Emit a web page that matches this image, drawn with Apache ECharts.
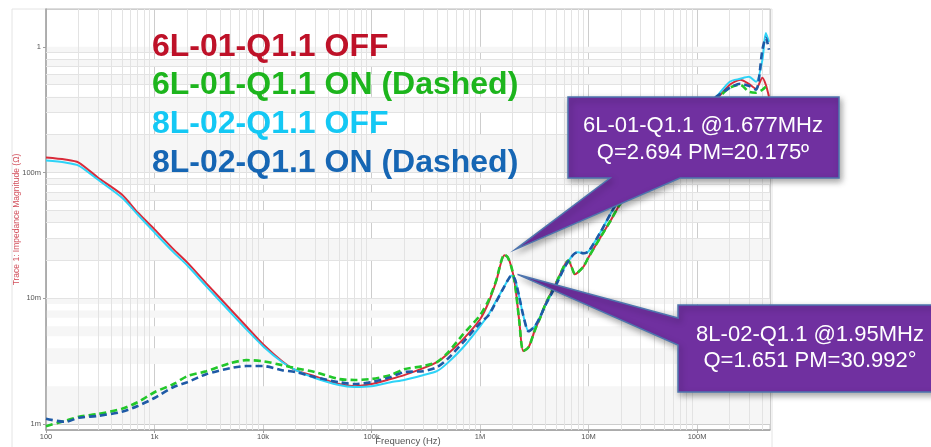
<!DOCTYPE html>
<html>
<head>
<meta charset="utf-8">
<script src="https://cdn.jsdelivr.net/npm/echarts@6/dist/echarts.min.js"></script>
<style>
  html, body { margin: 0; padding: 0; background: #ffffff; }
  #main { width: 931px; height: 447px; }
</style>
</head>
<body>
<div id="main"></div>
<script>
// Sweep frequencies (Hz), shared by all four impedance traces
const freqHz = [
  100, 150, 200, 300, 500, 700,
  1e3, 1.5e3, 2e3, 3e3, 5e3, 7e3,
  1e4, 1.5e4, 2e4, 3e4, 5e4, 7e4,
  1e5, 1.5e5, 2e5, 3e5, 4e5, 5e5, 7e5,
  1e6, 1.2e6, 1.4e6, 1.677e6, 1.8e6, 1.95e6, 2.1e6, 2.3e6, 2.5e6, 2.8e6, 3.2e6, 3.6e6, 4e6, 5e6, 6e6, 6.5e6, 7e6, 7.5e6, 8e6, 9e6,
  1e7, 1.3e7, 1.6e7, 2e7, 3e7, 5e7, 7e7,
  1e8, 1.5e8, 2e8, 2.5e8, 3e8, 3.5e8, 4e8, 4.3e8, 4.6e8
];

// Impedance magnitude (Ohm)
const z6L_off = [
  0.1315, 0.1268, 0.1201, 0.0913, 0.0669, 0.0481,
  0.0353, 0.0245, 0.0193, 0.01315, 0.00818, 0.00599,
  0.00431, 0.00316, 0.00268, 0.00240, 0.00208, 0.00200,
  0.00208, 0.00228, 0.00245, 0.00278, 0.00311, 0.00359, 0.00473,
  0.00681, 0.00930, 0.0134, 0.02195, 0.0212, 0.0176, 0.0129, 0.00657, 0.00380, 0.00408, 0.00557, 0.00707, 0.00896, 0.01315, 0.0183, 0.0200, 0.0176, 0.0155, 0.0161, 0.0179,
  0.0212, 0.0310, 0.0416, 0.0578, 0.0848, 0.1389, 0.1896,
  0.2634, 0.3797, 0.4995, 0.547, 0.508, 0.464, 0.567, 0.4995, 0.401
];
const z6L_on = [
  0.00096, 0.00106, 0.00114, 0.00120, 0.00132, 0.00149,
  0.00179, 0.00208, 0.00240, 0.00263, 0.00305, 0.00322,
  0.00316, 0.00294, 0.00278, 0.00259, 0.00228, 0.00224,
  0.00228, 0.00245, 0.00273, 0.00289, 0.00311, 0.00366, 0.00518,
  0.00733, 0.00964, 0.01365, 0.0223, 0.0212, 0.0176, 0.0129, 0.00657, 0.00380, 0.00408, 0.00557, 0.00707, 0.00896, 0.01315, 0.0183, 0.0200, 0.0176, 0.0155, 0.0161, 0.0179,
  0.0212, 0.0310, 0.0416, 0.0578, 0.0848, 0.1389, 0.1896,
  0.2634, 0.3797, 0.4727, 0.4995, 0.4394, 0.4315, 0.4557, 0.4815, 0.4995
];
const z8L_off = [
  0.1245, 0.1201, 0.1136, 0.0880, 0.0633, 0.0464,
  0.0334, 0.0232, 0.0183, 0.01245, 0.00774, 0.00568,
  0.00416, 0.00311, 0.00268, 0.00232, 0.00204, 0.00197,
  0.00200, 0.00215, 0.00224, 0.00245, 0.00263, 0.00305, 0.00408,
  0.00599, 0.00746, 0.00947, 0.01245, 0.0139, 0.0152, 0.01415, 0.01019, 0.00733, 0.00547, 0.00599, 0.00720, 0.00880, 0.01268, 0.0176, 0.0197, 0.0215, 0.0228, 0.0232, 0.0228,
  0.0236, 0.0340, 0.0473, 0.0645, 0.0964, 0.1579, 0.2195,
  0.3048, 0.401, 0.528, 0.557, 0.578, 0.528, 0.788, 1.291, 1.096
];
const z8L_on = [
  0.00110, 0.00104, 0.00112, 0.00116, 0.00125, 0.00139,
  0.00161, 0.00197, 0.00215, 0.00249, 0.00278, 0.00289,
  0.00289, 0.00268, 0.00259, 0.00236, 0.00215, 0.00208,
  0.00215, 0.00236, 0.00259, 0.00263, 0.00283, 0.00328, 0.00448,
  0.00633, 0.00733, 0.00930, 0.01245, 0.0139, 0.0152, 0.01415, 0.01019, 0.00733, 0.00547, 0.00599, 0.00720, 0.00880, 0.01268, 0.0176, 0.0197, 0.0215, 0.0228, 0.0232, 0.0228,
  0.0236, 0.0340, 0.0473, 0.0645, 0.0964, 0.1579, 0.2195,
  0.3048, 0.401, 0.4727, 0.508, 0.490, 0.4557, 0.947, 1.179, 0.947
];

const traceNames = [
  '6L-01-Q1.1 OFF',
  '6L-01-Q1.1 ON (Dashed)',
  '8L-02-Q1.1 OFF',
  '8L-02-Q1.1 ON (Dashed)'
];

// Axis tick labels by decade exponent
const xTickLabels = { 2: '100', 3: '1k', 4: '10k', 5: '100k', 6: '1M', 7: '10M', 8: '100M' };
const yTickLabels = { '-3': '1m', '-2': '10m', '-1': '100m', '0': '1' };

// Resonance annotations
const resonance6L = { freq: 1.677e6, lines: ['6L-01-Q1.1 @1.677MHz', 'Q=2.694 PM=20.175º'] };
const resonance8L = { freq: 1.95e6, lines: ['8L-02-Q1.1 @1.95MHz', 'Q=1.651 PM=30.992°'] };

const xMin = 100, xMax = 4.7e8;
const yMin = 0.000896, yMax = 2;

const FONT = '"Liberation Sans", Arial, sans-serif';

function pairs(ys) { return freqHz.map((f, i) => [f, ys[i]]); }

// Minor grid values (2..9 per decade)
const xMinor = [];
for (let d = 100; d < xMax; d *= 10) {
  for (let k = 2; k <= 9; k++) { if (k * d < xMax) xMinor.push(k * d); }
}
const yMinor = [];
const yBounds = [];
for (let d = 0.001; d < yMax * 1.0001; d *= 10) {
  for (let k = 1; k <= 9; k++) {
    const v = +(k * d).toPrecision(6);
    if (v <= yMax) yBounds.push(v);
    if (k > 1 && v < yMax) yMinor.push(v);
  }
}
// Alternating horizontal bands between consecutive minor lines
const yBands = [];
for (let i = 0; i + 1 < yBounds.length; i += 2) {
  yBands.push([{ yAxis: yBounds[i] }, { yAxis: yBounds[i + 1] }]);
}

const chart = echarts.init(document.getElementById('main'), null, { renderer: 'canvas' });

const solidStyle = (c) => ({ color: c, width: 2, type: 'solid' });
const dashStyle = (c) => ({ color: c, width: 2.6, type: [7, 4] });

chart.setOption({
  animation: false,
  backgroundColor: '#ffffff',
  textStyle: { fontFamily: FONT },
  grid: {
    left: 46, top: 9, right: 161, bottom: 17,
    containLabel: false, outerBoundsMode: 'none',
    show: true, borderColor: '#c8c8c8', borderWidth: 1, backgroundColor: 'transparent'
  },
  legend: {
    data: [
      { name: traceNames[0], textStyle: { color: '#BE1128' } },
      { name: traceNames[1], textStyle: { color: '#1DB51D' } },
      { name: traceNames[2], textStyle: { color: '#14C8F4' } },
      { name: traceNames[3], textStyle: { color: '#1666B4' } }
    ],
    orient: 'vertical',
    left: 142, top: 26,
    icon: 'none', itemWidth: 0, itemHeight: 0, itemGap: 6.6,
    selectedMode: false,
    textStyle: { fontSize: 32, fontWeight: 'bold', fontFamily: FONT, lineHeight: 32 }
  },
  xAxis: {
    type: 'log', logBase: 10, min: xMin, max: xMax,
    name: 'Frequency (Hz)', nameLocation: 'middle', nameGap: 6, nameMoveOverlap: false,
    nameTextStyle: { fontSize: 9.5, color: '#555' },
    axisLine: { show: true, lineStyle: { color: '#a0a0a0', width: 1.5 } },
    axisTick: { show: true, length: 3, lineStyle: { color: '#a0a0a0' } },
    axisLabel: {
      fontSize: 7.5, color: '#555', margin: 3, showMaxLabel: false,
      formatter: (v) => xTickLabels[Math.round(Math.log10(v))] || ''
    },
    splitLine: { show: true, lineStyle: { color: '#cdcdcd', width: 1 } }
  },
  yAxis: {
    type: 'log', logBase: 10, min: yMin, max: yMax,
    name: 'Trace 1: Impedance Magnitude (Ω)', nameLocation: 'middle', nameGap: 25, nameMoveOverlap: false,
    nameRotate: 90,
    nameTextStyle: { fontSize: 8.5, color: '#D2505C' },
    axisLine: { show: true, lineStyle: { color: '#a0a0a0', width: 1.5 } },
    axisTick: { show: true, length: 3, lineStyle: { color: '#a0a0a0' } },
    axisLabel: {
      fontSize: 7.5, color: '#555', margin: 5, showMaxLabel: false, showMinLabel: false,
      formatter: (v) => yTickLabels[String(Math.round(Math.log10(v)))] || ''
    },
    splitLine: { show: true, lineStyle: { color: '#cdcdcd', width: 1 } }
  },
  series: [
    {
      // minor grid and shaded bands
      name: 'grid-minor', type: 'line', data: [[xMin, yMin]], symbol: 'none', silent: true,
      lineStyle: { opacity: 0 }, z: 1,
      markArea: {
        silent: true, z: 0,
        itemStyle: { color: '#f6f6f6' },
        data: yBands
      },
      markLine: {
        silent: true, z: 1, symbol: ['none', 'none'], label: { show: false },
        lineStyle: { color: '#e3e3e3', width: 1, type: 'solid' },
        data: xMinor.map((v) => ({ xAxis: v })).concat(yMinor.map((v) => ({ yAxis: v })))
      }
    },
    { name: traceNames[0], type: 'line', data: pairs(z6L_off), symbol: 'none', smooth: 0.25, lineStyle: solidStyle('#D92B3A'), z: 3 },
    { name: traceNames[2], type: 'line', data: pairs(z8L_off), symbol: 'none', smooth: 0.25, lineStyle: solidStyle('#2ED3F7'), z: 3 },
    { name: traceNames[1], type: 'line', data: pairs(z6L_on), symbol: 'none', smooth: 0.25, lineStyle: dashStyle('#22C72A'), z: 4 },
    { name: traceNames[3], type: 'line', data: pairs(z8L_on), symbol: 'none', smooth: 0.25, lineStyle: dashStyle('#1E5AA6'), z: 4 }
  ]
});

// Callout boxes pointing at the two resonance peaks
function peakPixel(res, ys) {
  const i = freqHz.indexOf(res.freq);
  return chart.convertToPixel({ xAxisIndex: 0, yAxisIndex: 0 }, [res.freq, ys[i]]);
}
const p6 = peakPixel(resonance6L, z6L_off);
const p8 = peakPixel(resonance8L, z8L_off);
const tip6 = [p6[0] + 11, p6[1] - 6];
const tip8 = [p8[0] + 6, p8[1] - 1];

const calloutStyle = {
  fill: '#7030A0', stroke: '#4E75AE', lineWidth: 1.5,
  shadowBlur: 6, shadowOffsetX: 2, shadowOffsetY: 3, shadowColor: 'rgba(0,0,0,0.35)'
};
const textStyle = (t) => ({ text: t, fill: '#ffffff', fontSize: 22, fontFamily: FONT, align: 'center', verticalAlign: 'middle' });

chart.setOption({
  graphic: [
    { type: 'rect', z: -10, silent: true, shape: { x: 12, y: 9, width: 760, height: 460 },
      style: { fill: 'none', stroke: '#e4e4e4', lineWidth: 1 } },
    { type: 'polygon', z: 100, silent: true,
      shape: { points: [[568, 97], [839, 97], [839, 178], [680, 178], tip6, [610, 178], [568, 178]] },
      style: calloutStyle },
    { type: 'text', z: 101, silent: true, x: 703, y: 126, style: textStyle(resonance6L.lines[0]) },
    { type: 'text', z: 101, silent: true, x: 703, y: 153, style: textStyle(resonance6L.lines[1]) },
    { type: 'polygon', z: 100, silent: true,
      shape: { points: [[678, 305], [945, 305], [945, 392], [678, 392], [678, 345], tip8, [678, 318]] },
      style: calloutStyle },
    { type: 'text', z: 101, silent: true, x: 810, y: 335, style: textStyle(resonance8L.lines[0]) },
    { type: 'text', z: 101, silent: true, x: 810, y: 361, style: textStyle(resonance8L.lines[1]) }
  ]
});
</script>
</body>
</html>
